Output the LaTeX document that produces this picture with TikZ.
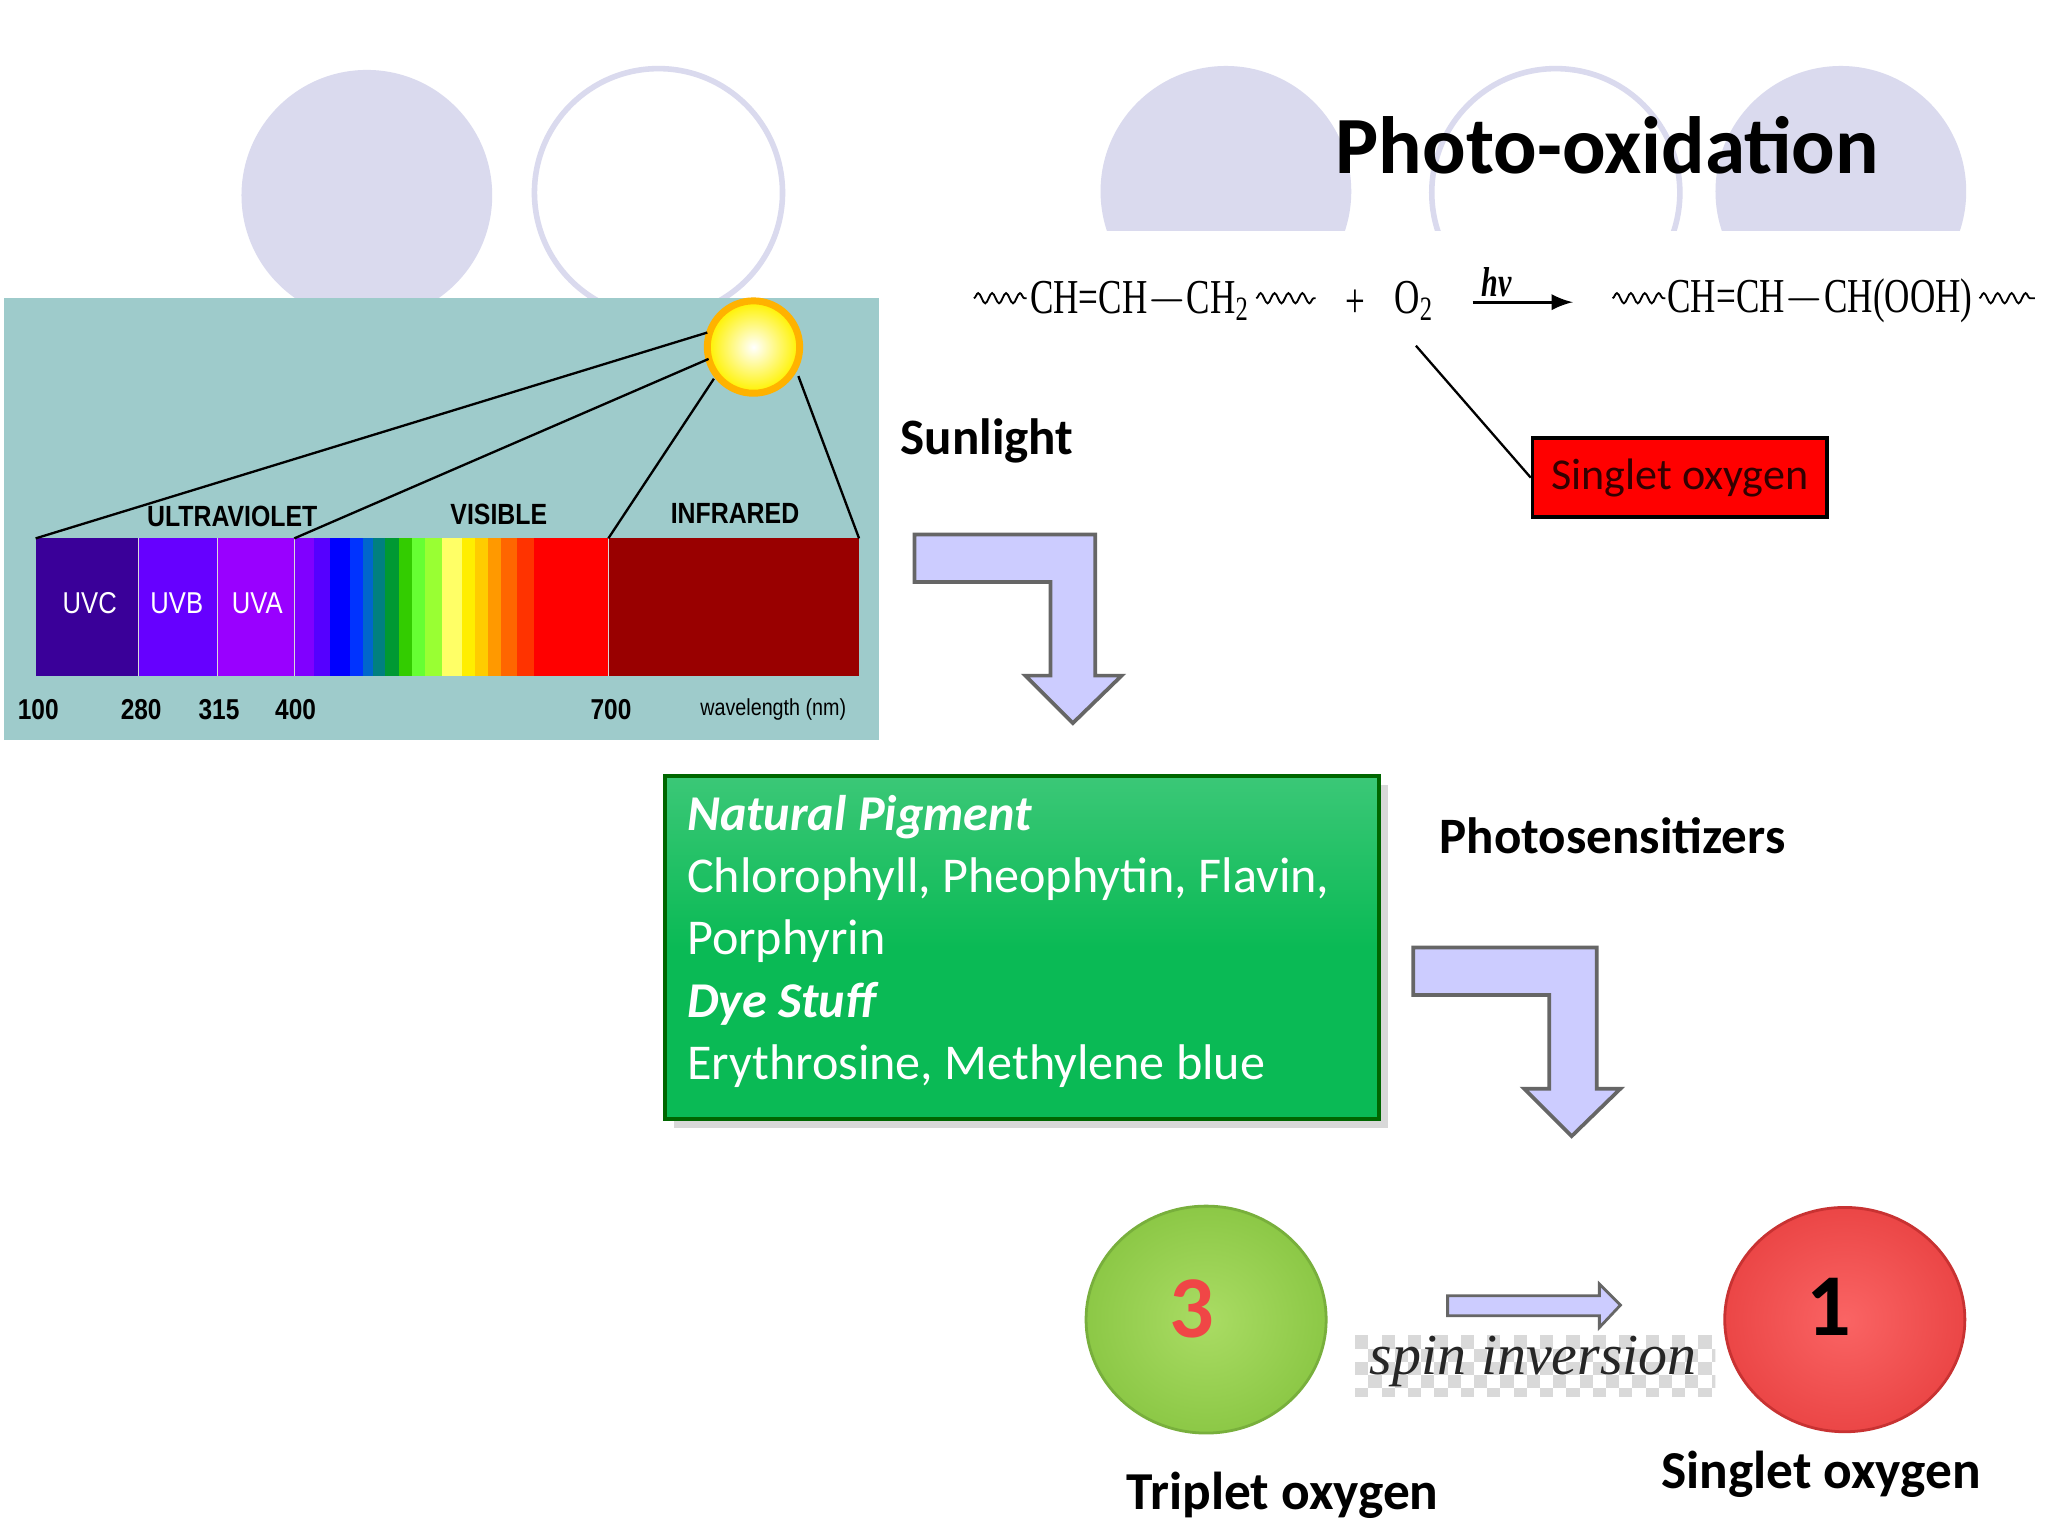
\documentclass[tikz,border=0pt]{standalone}
\usepackage{fontspec}
\setmainfont{Carlito}
\newfontfamily\eqfont[FakeStretch=0.72]{Liberation Serif}
\newfontfamily\specfont[FakeStretch=0.85]{Liberation Sans}
\newfontfamily\spinfont{Liberation Serif}
\usetikzlibrary{decorations.pathmorphing,shadows}
\definecolor{lav}{HTML}{DADAEE}
\definecolor{teal1}{HTML}{9ECBCB}
\definecolor{arrowfill}{HTML}{CCCCFF}
\definecolor{gbox}{HTML}{0ABA55}
\definecolor{uvc}{HTML}{3A0099}
\definecolor{uvb}{HTML}{6600FF}
\definecolor{uva}{HTML}{9900FF}
\definecolor{gin}{HTML}{AADC64}
\definecolor{gout}{HTML}{8CC846}
\definecolor{gedge}{HTML}{78AF3C}
\definecolor{rin}{HTML}{FA6464}
\definecolor{rout}{HTML}{EB4646}
\definecolor{redge}{HTML}{C83232}
\definecolor{three}{HTML}{F04646}
\tikzset{
 lbl/.style={font=\fontsize{11pt}{12pt}\selectfont\bfseries},
 spec/.style={font=\specfont\fontsize{5.8pt}{7pt}\selectfont},
 eq/.style={font=\eqfont\fontsize{10.5pt}{12pt}\selectfont, inner sep=0pt},
 wave/.style={decorate,decoration={snake,amplitude=1.1pt,segment length=3pt}, line width=0.4pt},
 bent/.style={draw=black!60, line width=0.8pt, fill=arrowfill}
}
\begin{document}
\begin{tikzpicture}[x=0.01cm,y=-0.01cm]
\useasboundingbox (0,0) rectangle (1552,1164);
\fill[white] (0,0) rectangle (1552,1164);
% background circles
\fill[lav] (278,148) circle (95);
\draw[lav, line width=1.2pt] (499,146) circle (94);
\begin{scope}
\clip (700,0) rectangle (1552,175);
\fill[lav] (929,145) circle (95);
\draw[lav, line width=1.2pt] (1179,146) circle (94);
\fill[lav] (1395,145) circle (95);
\end{scope}
\node[font=\fontsize{17.5pt}{20pt}\selectfont\bfseries] (title) at (1218,110) {Photo-oxidation};
% spectrum panel
\fill[teal1] (3,226) rectangle (666,561);
\fill[uvc] (27,408) rectangle (105,512);
\fill[uvb] (105,408) rectangle (165,512);
\fill[uva] (165,408) rectangle (223,512);
\foreach \a/\b/\c in {223/238/8000FF,238/250/5500FF,250/265/0000FF,265/275/0033FF,275/283/0066CC,283/292/008080,292/302/009933,302/312/33CC00,312/322/66FF33,322/335/99FF33,335/350/FFFF66,350/360/FFEE00,360/370/FFCC00,370/380/FF9900,380/392/FF6600,392/405/FF3300,405/461/FF0000,461/651/990000}{
 \definecolor{tmp}{HTML}{\c}\fill[tmp] (\a,408) rectangle (\b,512);}
\foreach \x in {105,165,223,461}{\draw[white!70!gray, line width=0.3pt] (\x,408) -- (\x,512);}
\shade[inner color=white, outer color=yellow!90!orange] (571,263) circle (34);
\draw[orange!60!yellow, line width=1.5pt] (571,263) circle (35);
\coordinate (s1) at (536,252); \coordinate (s2) at (537,272);
\coordinate (s3) at (541,287); \coordinate (s4) at (605,285);
\coordinate (e1) at (27,408); \coordinate (e2) at (223,408);
\coordinate (e3) at (461,408); \coordinate (e4) at (651,408);
\draw[line width=0.5pt] (s1)--(e1) (s2)--(e2) (s3)--(e3) (s4)--(e4);
\node[spec, font=\specfont\fontsize{6.3pt}{7pt}\selectfont\bfseries] (uv) at (176,391) {ULTRAVIOLET};
\node[spec, font=\specfont\fontsize{6.3pt}{7pt}\selectfont\bfseries] (vis) at (378,390) {VISIBLE};
\node[spec, font=\specfont\fontsize{6.3pt}{7pt}\selectfont\bfseries] (ir) at (557,389) {INFRARED};
\foreach \x/\t in {68/UVC,134/UVB,195/UVA}{\node[spec, text=white, font=\specfont\fontsize{6.5pt}{7pt}\selectfont] (n\t) at (\x,457) {\t};}
\foreach \x/\t in {29/100,107/280,166/315,224/400,463/700}{\node[spec, font=\specfont\fontsize{6.2pt}{7pt}\selectfont\bfseries] (w\t) at (\x,538) {\t};}
\node[spec, font=\specfont\fontsize{5pt}{6pt}\selectfont] (wl) at (586,538) {wavelength (nm)};
% equation
\draw[wave] (738,226) -- (778,226);
\node[eq, anchor=west] (r1) at (780,228) {CH=CH$-$CH\textsubscript{2}};
\draw[wave] (952,226) -- (997,226);
\node[eq] (plus) at (1027,230) {+};
\node[eq] (o2) at (1072,228) {O\textsubscript{2}};
\coordinate (a1) at (1116,229); \coordinate (a2) at (1192,229);
\draw[-latex, line width=0.6pt] (a1) -- (a2);
\node[eq, font=\eqfont\fontsize{9pt}{10pt}\selectfont\bfseries\itshape] (hv) at (1134,214) {hv};
\draw[wave] (1222,226) -- (1262,226);
\node[eq, anchor=west] (p1) at (1263,228) {CH=CH$-$CH(OOH)};
\draw[wave] (1500,226) -- (1542,226);
\node[draw=black, line width=0.8pt, fill=red, minimum width=2.23cm, minimum height=0.6cm, font=\fontsize{9.5pt}{10pt}\selectfont, text=black!80!red] (so) at (1273,362) {Singlet oxygen};
\coordinate (o2b) at (1073,262);
\draw[line width=0.5pt] (o2b) -- (so.west);
\node[lbl] (sun) at (748,334) {Sunlight};
\draw[bent] (693,405) -- (830,405) -- (830,512) -- (850,512) -- (813,548) -- (777,512) -- (796,512) -- (796,441) -- (693,441) -- cycle;
% green box
\node[draw=green!40!black, line width=0.8pt, top color=gbox!80!white, bottom color=gbox, middle color=gbox, minimum width=5.41cm, minimum height=2.6cm, drop shadow={opacity=0.3, shadow xshift=2pt, shadow yshift=-2pt}] (gb) at (774.5,718) {};
\node[anchor=north west, text=white, align=left, font=\fontsize{10.8pt}{13.4pt}\selectfont, inner sep=0pt] (gt) at (520,602)
{\textbf{\textit{Natural Pigment}}\\Chlorophyll, Pheophytin, Flavin,\\Porphyrin\\\textbf{\textit{Dye Stuff}}\\Erythrosine, Methylene blue};
\node[lbl] (ps) at (1222,633) {Photosensitizers};
\draw[bent] (1071,718) -- (1210,718) -- (1210,825) -- (1228,825) -- (1191,861) -- (1155,825) -- (1174,825) -- (1174,754) -- (1071,754) -- cycle;
% balls
\shade[inner color=gin, outer color=gout] (914,1000) ellipse (91 and 86);
\draw[gedge, line width=0.6pt] (914,1000) ellipse (91 and 86);
\node[font=\fontsize{19pt}{20pt}\selectfont\bfseries, text=three] (thr) at (903,992) {3};
\shade[inner color=rin, outer color=rout] (1398,1000) ellipse (91 and 85);
\draw[redge, line width=0.6pt] (1398,1000) ellipse (91 and 85);
\node[font=\fontsize{19pt}{20pt}\selectfont\bfseries] (one) at (1386,990) {1};
% spin arrow
\draw[bent, line width=0.6pt] (1097,982) -- (1212,982) -- (1212,973) -- (1228,989) -- (1212,1006) -- (1212,997) -- (1097,997) -- cycle;
\begin{scope}
\clip (1027,1012) rectangle (1300,1058);
\foreach \i in {0,...,27}{\foreach \j in {0,...,4}{
 \pgfmathtruncatemacro{\m}{mod(\i+\j,2)}
 \ifnum\m=0 \fill[gray!30] (1027+\i*10,1012+\j*10) rectangle ++(10,10);\fi}}
\end{scope}
\node[font=\spinfont\fontsize{12.5pt}{14pt}\selectfont\itshape, text=black!85] (spin) at (1162,1032) {spin inversion};
\node[lbl, font=\fontsize{11.5pt}{12pt}\selectfont\bfseries] (trip) at (972,1133) {Triplet oxygen};
\node[lbl, font=\fontsize{11.5pt}{12pt}\selectfont\bfseries] (sing) at (1380,1117) {Singlet oxygen};
\end{tikzpicture}
\end{document}
